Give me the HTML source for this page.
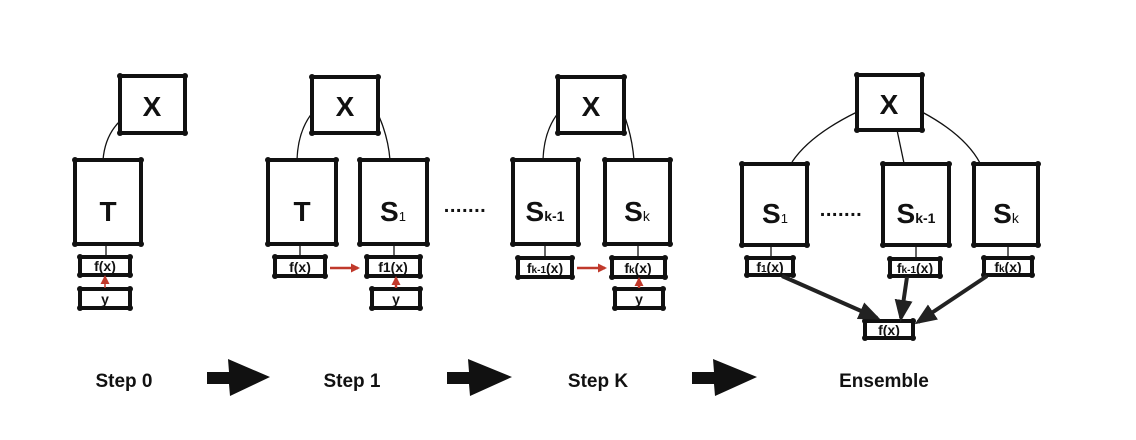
<!DOCTYPE html>
<html><head><meta charset="utf-8"><style>
html,body{margin:0;padding:0;background:#fff;}
svg{display:block;font-family:"Liberation Sans",sans-serif;}
.b{fill:#fff;stroke:#111;stroke-width:4;stroke-linejoin:round;}
.c{fill:#111;}
.t{font-weight:bold;text-anchor:middle;fill:#111;}
.ln{fill:none;stroke:#111;stroke-width:1.3;}
</style></head><body>
<svg id="svg" width="1136" height="440" viewBox="0 0 1136 440">
<defs>
<marker id="ra" markerWidth="9" markerHeight="9" refX="7" refY="4.5" orient="auto" markerUnits="userSpaceOnUse"><path d="M0,0 L9,4.5 L0,9 z" fill="#c0392b"/></marker>
<marker id="ka" markerWidth="22" markerHeight="18" refX="18" refY="9" orient="auto" markerUnits="userSpaceOnUse"><path d="M0,0 L22,9 L0,18 z" fill="#222"/></marker>
</defs>

<g>
<path class="ln" d="M121,120 Q105,135 103,160"/>
<path class="ln" d="M313,112 Q298,130 297,160"/>
<path class="ln" d="M377,112 Q388,135 390,160"/>
<path class="ln" d="M559,112 Q544,130 543,160"/>
<path class="ln" d="M623,112 Q632,135 634,160"/>
<path class="ln" d="M857,112 Q810,135 792,162"/>
<path class="ln" d="M922,112 Q965,135 980,163"/>
<path class="ln" d="M897,130 L905,168"/>
<line class="ln" x1="106" y1="244" x2="106" y2="256"/>
<line class="ln" x1="300" y1="244" x2="300" y2="266"/>
<line class="ln" x1="394" y1="244" x2="394" y2="266"/>
<line class="ln" x1="545" y1="244" x2="545" y2="258"/>
<line class="ln" x1="638" y1="244" x2="638" y2="258"/>
<line class="ln" x1="771" y1="245" x2="771" y2="257"/>
<line class="ln" x1="916" y1="245" x2="916" y2="257"/>
<line class="ln" x1="1008" y1="245" x2="1008" y2="257"/>
</g>

<g><rect class="b" x="120" y="76" width="65" height="57"/><text class="t" x="152" y="116" font-size="28">X</text></g>
<g><rect class="b" x="75" y="160" width="66" height="84"/><text class="t" x="108" y="221" font-size="28">T</text></g>
<g><rect class="b" x="80" y="257" width="50" height="18"/><text class="t" x="105" y="271" font-size="14">f(x)</text></g>
<g><rect class="b" x="80" y="289" width="50" height="19"/><text class="t" x="105" y="304" font-size="14">y</text></g>
<line x1="105" y1="288" x2="105" y2="277" stroke="#c0392b" stroke-width="1.5" marker-end="url(#ra)"/>

<g><rect class="b" x="312" y="77" width="66" height="56"/><text class="t" x="345" y="116" font-size="28">X</text></g>
<g><rect class="b" x="268" y="160" width="68" height="84"/><text class="t" x="302" y="221" font-size="28">T</text></g>
<g><rect class="b" x="360" y="160" width="67" height="84"/><text class="t" x="393" y="221" font-size="28">S<tspan font-size="13" font-weight="normal">1</tspan></text></g>
<g><rect class="b" x="275" y="257" width="50" height="19"/><text class="t" x="300" y="272" font-size="14">f(x)</text></g>
<g><rect class="b" x="367" y="257" width="53" height="19"/><text class="t" x="393" y="272" font-size="14">f1(x)</text></g>
<g><rect class="b" x="372" y="289" width="48" height="19"/><text class="t" x="396" y="304" font-size="14">y</text></g>
<line x1="330" y1="268" x2="358" y2="268" stroke="#c0392b" stroke-width="2.5" marker-end="url(#ra)"/>
<line x1="396" y1="288" x2="396" y2="278" stroke="#c0392b" stroke-width="2.5" marker-end="url(#ra)"/>
<text x="465" y="212" font-size="20" font-weight="bold" text-anchor="middle" fill="#111" letter-spacing="0.5">.......</text>

<g><rect class="b" x="558" y="77" width="66" height="56"/><text class="t" x="591" y="116" font-size="28">X</text></g>
<g><rect class="b" x="513" y="160" width="65" height="84"/><text class="t" x="545" y="221" font-size="28">S<tspan font-size="14">k-1</tspan></text></g>
<g><rect class="b" x="605" y="160" width="65" height="84"/><text class="t" x="637" y="221" font-size="28">S<tspan font-size="14" font-weight="normal">k</tspan></text></g>
<g><rect class="b" x="518" y="258" width="54" height="19"/><text class="t" x="545" y="273" font-size="14">f<tspan font-size="10">k-1</tspan>(x)</text></g>
<g><rect class="b" x="612" y="258" width="53" height="19"/><text class="t" x="638" y="273" font-size="14">f<tspan font-size="10">k</tspan>(x)</text></g>
<g><rect class="b" x="615" y="289" width="48" height="19"/><text class="t" x="639" y="304" font-size="14">y</text></g>
<line x1="577" y1="268" x2="605" y2="268" stroke="#c0392b" stroke-width="2.5" marker-end="url(#ra)"/>
<line x1="639" y1="288" x2="639" y2="279" stroke="#c0392b" stroke-width="2.5" marker-end="url(#ra)"/>

<g><rect class="b" x="857" y="75" width="65" height="55"/><text class="t" x="889" y="114" font-size="28">X</text></g>
<g><rect class="b" x="742" y="164" width="65" height="81"/><text class="t" x="775" y="223" font-size="28">S<tspan font-size="13" font-weight="normal">1</tspan></text></g>
<text x="841" y="216" font-size="20" font-weight="bold" text-anchor="middle" fill="#111" letter-spacing="0.5">.......</text>
<g><rect class="b" x="883" y="164" width="66" height="81"/><text class="t" x="916" y="223" font-size="28">S<tspan font-size="14">k-1</tspan></text></g>
<g><rect class="b" x="974" y="164" width="64" height="81"/><text class="t" x="1006" y="223" font-size="28">S<tspan font-size="14" font-weight="normal">k</tspan></text></g>
<g><rect class="b" x="747" y="258" width="46" height="17"/><text class="t" x="770" y="272" font-size="14">f<tspan font-size="10">1</tspan>(x)</text></g>
<g><rect class="b" x="890" y="259" width="50" height="17"/><text class="t" x="915" y="273" font-size="14">f<tspan font-size="10">k-1</tspan>(x)</text></g>
<g><rect class="b" x="984" y="258" width="48" height="17"/><text class="t" x="1008" y="272" font-size="14">f<tspan font-size="10">k</tspan>(x)</text></g>
<g><rect class="b" x="865" y="321" width="48" height="17"/><text class="t" x="889" y="335" font-size="14">f(x)</text></g>
<line x1="782" y1="276" x2="877" y2="318" stroke="#222" stroke-width="4" marker-end="url(#ka)"/>
<line x1="907" y1="277" x2="901" y2="318" stroke="#222" stroke-width="4" marker-end="url(#ka)"/>
<line x1="987" y1="276" x2="918" y2="322" stroke="#222" stroke-width="4" marker-end="url(#ka)"/>

<text class="t" x="124" y="387" font-size="19">Step 0</text>
<text class="t" x="352" y="387" font-size="19">Step 1</text>
<text class="t" x="598" y="387" font-size="19">Step K</text>
<text class="t" x="884" y="387" font-size="19">Ensemble</text>

<path d="M207,372 L229,372 L228,359 L270,377 L230,396 L229,384 L207,384 z" fill="#111"/>
<path d="M447,372 L469,372 L468,359 L512,377 L470,396 L469,384 L447,384 z" fill="#111"/>
<path d="M692,372 L714,372 L713,359 L757,377 L715,396 L714,384 L692,384 z" fill="#111"/>
</svg>
<script>
var svg=document.getElementById('svg');
var rects=Array.prototype.slice.call(svg.querySelectorAll('rect.b'));
rects.forEach(function(r){
  var x=+r.getAttribute('x'),y=+r.getAttribute('y'),w=+r.getAttribute('width'),h=+r.getAttribute('height');
  [[x,y],[x+w,y],[x,y+h],[x+w,y+h]].forEach(function(p){
    var c=document.createElementNS('http://www.w3.org/2000/svg','circle');
    c.setAttribute('cx',p[0]);c.setAttribute('cy',p[1]);c.setAttribute('r',3);c.setAttribute('fill','#111');
    
    
    r.parentNode.insertBefore(c,r.nextSibling);
  });
});
</script>
</body></html>
